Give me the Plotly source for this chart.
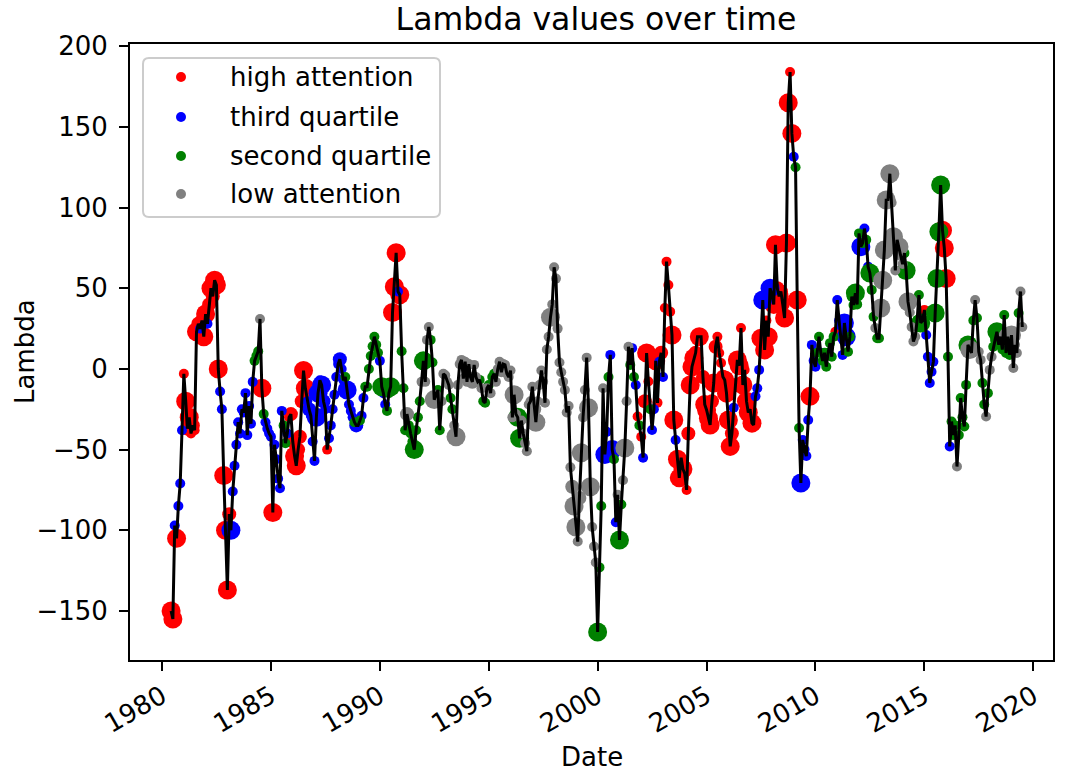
import pandas as pd
import plotly.graph_objects as go

# Monthly lambda series, first observation June 1980
first_month = "1980-06-01"

lam = [
    # 1980 (Jun-Dec)
    -150, -155, -97, -105, -85, -71, -38,
    # 1981
    -3, -20, -37, -30, -40, -35, -38, 23, 28, 25, 30, 20,
    # 1982
    34, 28, 40, 50, 45, 55, 52, 0, -14, -25, -66, -100,
    # 1983
    -137, -90, -100, -76, -60, -47, -33, -40, -25, -27, -15, -41,
    # 1984
    -23, -34, -8, 5, 8, 11, 31, -12, -28, -33, -37, -40,
    # 1985
    -42, -89, -47, -56, -68, -74, -26, -35, -46, -40, -30, -28,
    # 1986
    -45, -54, -60, -50, -42, -20, -1, -12, -20, -25, -29, -45,
    # 1987
    -57, -30, -15, -7, -10, -20, -25, -50, -43, -35, -25, -16,
    # 1988
    -5, 3, 6, 0, -7, -5, -13, -22, -26, -30, -33, -35,
    # 1989
    -35, -32, -29, -18, -11, -11, 0, 8, 14, 20, 15, 10,
    # 1990
    5, -11, -15, -22, -26, -15, -11, 35, 51, 72, 48, 46,
    # 1991
    11, -12, -38, -28, -35, -40, -45, -50, -38, -30, -20, -8,
    # 1992
    5, -8, 18, 26, 18, 4, -19, -16, -13, -38, -20, -3,
    # 1993
    -4, -8, -10, -18, -25, -35, -42, -10, 3, 5.6, -6, 4.5,
    # 1994
    -8, 3, -5, -8, 2.5, -5, -8, -6.8, -12, -20, -21, -12,
    # 1995
    -10, -15, -5, -3, -8, 0, 4.5, -2, 3, 2.5, -3, -5,
    # 1996
    -1, -30, -16, -28, -30, -43, -32, -40, -46, -51, -22, -20,
    # 1997
    -11, -25, -33, -20, -10, -1, -8, -21, 12, 20, 32, 40,
    # 1998
    63, 56, 25, 4, -2, -8, -13, -27, -23, -61, -73, -85,
    # 1999
    -98, -107, -80, -52, -30, -13, 7, -24, -73, -98, -110, -120,
    # 2000
    -163, -123, -85, -12, -53, -39, -5, 8.7, -50, -56, -95, -78,
    # 2001
    -106, -84, -69, -49, -20, 13.8, 2.5, 12.9, -5, -10, -29.5, -35,
    # 2002
    -42, -55, -20, 9.9, -7.8, -25, -37.8, -25, 5, -21, 4.5, 10,
    # 2003
    -5, 37.8, 66.5, 52, 35.5, 21, -31.6, -44, -56, -67.5, -55, -62,
    # 2004
    -65, -75, -40, -10, 1.4, 6.8, 10, 20, 20, 20, -5, -22,
    # 2005
    -25.4, -30.6, -34.7, -20, -8.7, 13.8, 20, 9.9, 3.7, -4.8, -6.8, -15,
    # 2006
    -31.6, -48, -40, -24, -10, 5.6, 2, 25.4, -10, -0.6, -20, -27,
    # 2007
    -25, -33.6, -34.7, -17, -12, -0.6, 19, 42.7, 11.8, 30, 20, 50,
    # 2008
    46, 40, 77, 50, 45, 48, 40, 31.6, 78, 165, 184, 146,
    # 2009
    131.5, 125, 42.7, -36.6, -70.7, -44, -50, -54, -31.6, -17, 14.9, 5,
    # 2010
    1.4, 10, 20, 10, 5, 10, 1.4, 10, 16, 7.6, 20, 23,
    # 2011
    42.7, 30, 20, 8.7, 28.5, 20, 10.7, 20, 44.8, 39.6, 47, 40,
    # 2012
    84, 75.8, 78, 87, 80, 63.4, 59.5, 49, 32.4, 25.4, 19, 19,
    # 2013
    37.8, 55, 73.7, 104.7, 105, 121, 103, 82, 61, 80, 75.8, 70,
    # 2014
    65, 71.8, 61, 41.7, 35, 26, 17, 20, 30, 45.8, 28.5, 30,
    # 2015
    36.6, 21, 7.6, -8.7, -1.7, 4.5, 34.7, 56, 85, 114, 86, 75,
    # 2016
    56, 7.6, -48, -32.6, -41, -35, -60.5, -41, -18, -30, -35.7, -9.9,
    # 2017
    14.9, 12, 10, 30, 42.7, 31.6, 10.7, 5.6, -8.7, -22, -29.5, -15,
    # 2018
    -0.6, 7.6, 13.8, 18, 23, 15, 20, 12, 33.4, 9.9, 20, 8.7,
    # 2019 (Jan-Jul)
    21, 0.6, 15, 9.9, 34.7, 48, 26,
]

# Attention class per month: H high, T third quartile, S second quartile, L low
attention = "".join([
    "HHTHTTT",
    "HHHHHHHHHTHH", "HTHHHHHHTTHH", "HHTTTTTTTTTT", "TTTSSSLHSTTT",
    "THTTTTTSSTHH", "HHHHHHHHTTTT", "TTTTTTTHTTTT", "TTTTTSTTTTST",
    "TSTTSSSSSSSS", "TSTTSSSHHHTH", "SSSLSSSSSSSL", "SLLLSSLLSSLL",
    "LLLSSLLLLLLL", "LLLLLLSSLSSL", "SLSSLLLLLLLL", "LLLLSSLLLLLL",
    "LLLLLLLLLLLL", "LLLLLLLLLLLL", "LLLLLLLLLLLL", "SSSLTTSTTSTL",
    "SSLLLLSTSTHS", "HTHHHSTTHHTH", "THHHHHHTHHHH", "HHHHHHHHHHHH",
    "HHHHHHHHHHHH", "HHHTHHHHHHHH", "HHHTTTHTHHHT", "HHHHHHHHHHHH",
    "TSHSTTTTTHTT", "TSSTSSSSSSSH", "TTHTTTSSSSSS", "STSTSTSSSLSS",
    "LLLLLLLLLLLL", "LSSLLLLLSSSS", "HTTTTTSSSSHH", "HSTSSSLSSSSS",
    "SLLSLSLLSSLS", "LLSSSSSSSSLS",
    "LLLLSLL",
])

# Marker weight per month (1 small, 2 medium, 3 large)
weight = [
    3, 3, 1, 3, 1, 1, 1,
    1, 3, 2, 3, 1, 2, 1, 3, 2, 1, 2, 3,
    3, 1, 2, 3, 2, 3, 3, 3, 1, 1, 3, 3,
    3, 2, 3, 1, 1, 1, 1, 1, 1, 1, 1, 1,
    1, 1, 1, 1, 1, 1, 1, 3, 1, 1, 1, 1,
    1, 3, 1, 1, 1, 1, 1, 1, 1, 1, 1, 2,
    2, 3, 3, 2, 2, 2, 3, 3, 1, 2, 1, 1,
    1, 3, 3, 1, 3, 2, 1, 1, 1, 1, 1, 1,
    1, 1, 2, 1, 1, 1, 3, 1, 1, 1, 1, 2,
    1, 1, 1, 1, 1, 1, 1, 1, 1, 1, 1, 1,
    1, 3, 1, 1, 1, 1, 3, 3, 3, 3, 1, 3,
    1, 1, 1, 2, 1, 1, 1, 3, 1, 1, 1, 1,
    3, 1, 1, 1, 1, 1, 3, 1, 1, 1, 1, 1,
    1, 1, 1, 1, 1, 1, 3, 1, 1, 1, 1, 1,
    1, 1, 1, 2, 1, 1, 1, 1, 1, 1, 1, 1,
    1, 1, 1, 1, 1, 1, 1, 1, 1, 1, 1, 1,
    1, 1, 3, 1, 3, 3, 1, 1, 1, 1, 1, 1,
    1, 2, 3, 1, 1, 1, 1, 1, 1, 1, 3, 1,
    1, 1, 1, 1, 1, 1, 1, 1, 1, 1, 2, 3,
    3, 1, 2, 3, 1, 1, 1, 3, 3, 1, 1, 1,
    3, 1, 1, 1, 3, 1, 1, 1, 3, 1, 1, 1,
    3, 1, 1, 3, 1, 1, 1, 1, 1, 1, 1, 1,
    1, 1, 2, 3, 1, 1, 1, 1, 3, 1, 1, 2,
    1, 1, 1, 1, 1, 3, 3, 1, 3, 3, 1, 3,
    1, 1, 2, 3, 3, 3, 2, 1, 3, 1, 2, 3,
    3, 3, 3, 2, 3, 2, 1, 1, 1, 2, 3, 3,
    3, 3, 2, 1, 2, 3, 3, 1, 3, 1, 3, 3,
    1, 3, 1, 1, 1, 1, 3, 3, 3, 1, 3, 3,
    3, 3, 3, 2, 3, 2, 2, 3, 3, 3, 1, 3,
    1, 1, 3, 1, 3, 1, 1, 1, 1, 3, 1, 1,
    1, 1, 1, 1, 1, 1, 1, 1, 1, 1, 1, 1,
    1, 1, 1, 1, 3, 3, 1, 1, 1, 1, 3, 1,
    1, 3, 1, 1, 1, 1, 3, 1, 1, 1, 1, 1,
    3, 3, 3, 3, 1, 3, 1, 3, 1, 1, 3, 1,
    1, 1, 3, 3, 1, 1, 1, 1, 1, 1, 3, 1,
    1, 1, 1, 1, 1, 1, 3, 3, 3, 3, 3, 3,
    3, 1, 1, 1, 1, 1, 1, 1, 1, 1, 1, 1,
    3, 3, 1, 1, 1, 1, 1, 1, 1, 1, 1, 1,
    1, 1, 1, 1, 3, 1, 1, 1, 1, 1, 3, 1,
    3, 1, 1, 1, 1, 1, 1,
]

groups = [
    ("H", "high attention", "#ff0000"),
    ("T", "third quartile", "#0000ff"),
    ("S", "second quartile", "#008000"),
    ("L", "low attention", "#808080"),
]
diameter = {1: 10, 2: 14, 3: 19}

year_ticks = list(range(1980, 2021, 5))

dates = pd.date_range(first_month, periods=len(lam), freq="MS")
df = pd.DataFrame({"date": dates, "lam": lam,
                   "cls": list(attention), "w": weight})

FONT = "DejaVu Sans"
W, H = 1070, 771
ML, MR, MT, MB = 130, 17, 44, 111
PW, PH = W - ML - MR, H - MT - MB

fig = go.Figure()

for code, label, color in groups:
    sub = df[df["cls"] == code]
    fig.add_trace(go.Scatter(
        x=sub["date"], y=sub["lam"], mode="markers", name=label,
        marker=dict(color=color, size=[diameter[w] for w in sub["w"]],
                    opacity=1, line=dict(width=0)),
        showlegend=False, hoverinfo="skip"))

fig.add_trace(go.Scatter(
    x=df["date"], y=df["lam"], mode="lines",
    line=dict(color="black", width=3), showlegend=False))

axis_common = dict(
    showline=True, linecolor="black", linewidth=2, mirror=True,
    ticks="outside", ticklen=9, tickwidth=2, tickcolor="black",
    showgrid=False, zeroline=False,
    tickfont=dict(family=FONT, size=26, color="black"),
)

# Legend panel drawn in pixel offsets from the top-left corner of the plot area
shapes = [dict(
    type="path", xref="paper", yref="paper", xsizemode="pixel", ysizemode="pixel",
    xanchor=0, yanchor=1, layer="above",
    path="M 19,-14 L 304,-14 Q 310,-14 310,-20 L 310,-167 Q 310,-173 304,-173 "
         "L 19,-173 Q 13,-173 13,-167 L 13,-20 Q 13,-14 19,-14 Z",
    line=dict(color="#cccccc", width=2), fillcolor="rgba(255,255,255,0.8)",
)]
annotations = []
row_y = [77, 117, 156, 194]
for (code, label, color), ry in zip(groups, row_y):
    dy = -(ry - MT)
    shapes.append(dict(
        type="circle", xref="paper", yref="paper", xsizemode="pixel",
        ysizemode="pixel", xanchor=0, yanchor=1, layer="above",
        x0=181 - ML - 5, x1=181 - ML + 5, y0=dy - 5, y1=dy + 5,
        fillcolor=color, line=dict(width=0)))
    annotations.append(dict(
        text=label, xref="paper", yref="paper",
        x=(228 - ML) / PW, y=1 - (ry - MT) / PH, xanchor="left", yanchor="middle",
        showarrow=False, font=dict(family=FONT, size=26, color="black")))

annotations.append(dict(
    text="Date", xref="paper", yref="paper", x=0.5, y=(MT + PH - 757) / PH + 0,
    xanchor="center", yanchor="middle", showarrow=False,
    font=dict(family=FONT, size=26, color="black")))
annotations.append(dict(
    text="Lambda", xref="paper", yref="paper", x=(25 - ML) / PW, y=0.5,
    xanchor="center", yanchor="middle", textangle=-90, showarrow=False,
    font=dict(family=FONT, size=26, color="black")))

fig.update_layout(
    width=W, height=H,
    margin=dict(l=ML, r=MR, t=MT, b=MB),
    paper_bgcolor="white", plot_bgcolor="white",
    showlegend=False,
    title=dict(text="Lambda values over time", x=0.557, xanchor="center",
               y=0.99, yref="container", yanchor="top",
               font=dict(family=FONT, size=31.5, color="black")),
    xaxis=dict(
        **axis_common, type="date",
        range=["1978-07-13", "2020-11-27"],
        tickvals=[f"{y}-01-01" for y in year_ticks],
        ticktext=[str(y) for y in year_ticks],
        tickangle=-30,
    ),
    yaxis=dict(
        **axis_common,
        range=[-180.4, 201.4],
        tickvals=list(range(-150, 201, 50)),
        ticklabelstandoff=6,
    ),
    shapes=shapes,
    annotations=annotations,
    font=dict(family=FONT, color="black"),
)

fig.write_html("out.html")
